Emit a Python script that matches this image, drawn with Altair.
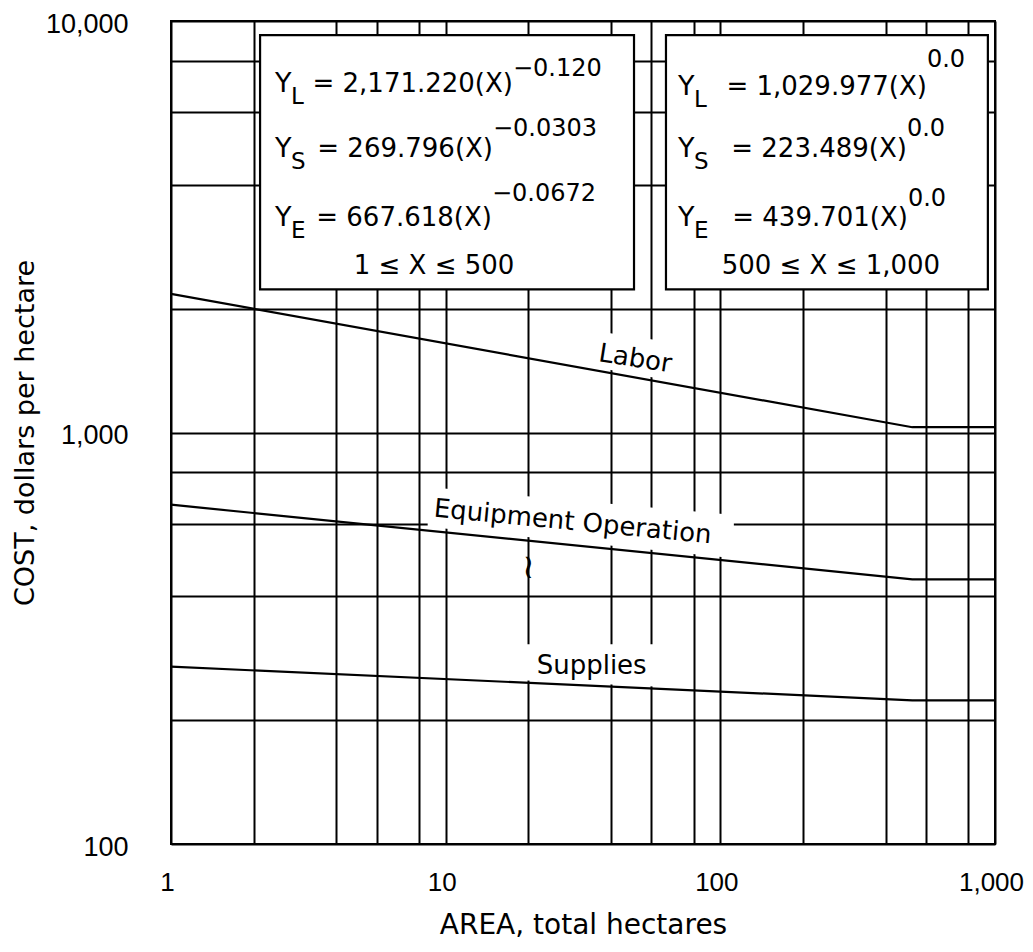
import altair as alt
import pandas as pd

area = [1, 500, 1000]
labor = [2171.220, 1029.977, 1029.977]
equipment = [667.618, 439.701, 439.701]
supplies = [269.796, 223.489, 223.489]
series_names = ["Labor", "Equipment Operation", "Supplies"]

# ---- grid / tick values ----
x_grid = [1, 2, 4, 5.6, 8, 10, 20, 40, 56, 80, 100, 200, 400, 560, 800, 1000]
y_grid = [100, 200, 400, 600, 800, 1000, 2000, 4000, 6000, 8000, 10000]
x_labels = [1, 10, 100, 1000]
y_labels = [100, 1000, 10000]

# ---- curve labels (data coordinates) ----
lab_text = ["Labor", "Equipment  Operation", "Supplies", "\u2240"]
lab_x = [49, 29, 34, 20]
lab_y = [1510, 606, 271, 468]
lab_angle = [9, 5.5, 0, 0]
lab_size = [26, 26, 26, 34]

# ---- white masks behind curve labels ----
mask_id = ["L", "L", "E", "E", "S", "S"]
mask_x = [35, 69, 8.6, 112, 19, 60]
mask_top = [1765, 1650, 737, 630, 306, 306]
mask_bot = [1440, 1330, 590, 495, 250, 241]

# ---- equation boxes ----
box_x0 = [2.11, 63.4]
box_x1 = [48.5, 942]
box_y0 = [2228, 2228]
box_y1 = [9245, 9245]

# ---- equation text ----
eq_anchor_x = [2.39, 2.39, 2.39, 70.1, 70.1, 70.1]
eq_base_y = [6723, 4672, 3176, 6600, 4672, 3176]
eq_sub = ["L", "S", "E", "L", "S", "E"]
eq_body = ["= 2,171.220(X)", "= 269.796(X)", "= 667.618(X)",
           "= 1,029.977(X)", "=  223.489(X)", "=  439.701(X)"]
eq_sup_x = [17.58, 14.87, 14.74, 565, 478, 482]
eq_sup_y = [7350, 5254, 3652, 7729, 5254, 3551]
eq_sup = ["\u22120.120", "\u22120.0303", "\u22120.0672", "0.0", "0.0", "0.0"]
range_text = ["1 \u2264 X \u2264  500", "500 \u2264 X \u2264 1,000"]
range_x = [9.07, 252.7]
range_y = [2428, 2428]

# ---------------------------------------------------------------
series_df = pd.DataFrame({
    "area": area * 3,
    "cost": labor + equipment + supplies,
    "series": sum([[n] * len(area) for n in series_names], []),
})
labels_df = pd.DataFrame({"text": lab_text, "x": lab_x, "y": lab_y,
                          "ang": lab_angle, "size": lab_size})
mask_df = pd.DataFrame({"id": mask_id, "x": mask_x, "top": mask_top, "bot": mask_bot})
box_df = pd.DataFrame({"x0": box_x0, "x1": box_x1, "y0": box_y0, "y1": box_y1})
eq_df = pd.DataFrame({"ax": eq_anchor_x, "by": eq_base_y, "sub": eq_sub,
                      "body": eq_body, "sx": eq_sup_x, "sy": eq_sup_y, "sup": eq_sup})
range_df = pd.DataFrame({"text": range_text, "x": range_x, "y": range_y})

xs = alt.Scale(type="log", domain=[1, 1000], nice=False)
ys = alt.Scale(type="log", domain=[100, 10000], nice=False)

x_axis = alt.Axis(
    values=x_grid,
    labelExpr=f"indexof({x_labels}, datum.value) >= 0 ? format(datum.value, ',') : ''",
    labelOverlap=False, labelFlush=False, labelOffset=-4,
    grid=True, gridColor="black", gridWidth=2, gridOpacity=1,
    domain=False, ticks=False,
    labelFont="Liberation Sans", labelFontSize=26, labelColor="black", labelPadding=25,
    title="AREA,  total hectares", titleFont="DejaVu Sans", titleFontSize=28,
    titleFontWeight="normal", titleColor="black", titlePadding=16,
)
y_axis = alt.Axis(
    values=y_grid,
    labelExpr=f"indexof({y_labels}, datum.value) >= 0 ? format(datum.value, ',') : ''",
    labelOverlap=False, labelFlush=False, labelOffset=3,
    grid=True, gridColor="black", gridWidth=2, gridOpacity=1,
    domain=False, ticks=False,
    labelFont="Liberation Sans", labelFontSize=27, labelColor="black", labelPadding=43,
    title="COST, dollars per hectare", titleFont="DejaVu Sans", titleFontSize=27,
    titleFontWeight="normal", titleColor="black", titlePadding=6,
)


def X(f):
    return alt.X(f, type="quantitative", scale=xs, axis=x_axis)


def Y(f):
    return alt.Y(f, type="quantitative", scale=ys, axis=y_axis, stack=None)


masks = alt.Chart(mask_df).mark_area(color="white", opacity=1).encode(
    x=X("x"), y=Y("top"), y2="bot", detail="id"
)

boxes = alt.Chart(box_df).mark_rect(fill="white", stroke="black", strokeWidth=2.2).encode(
    x=X("x0"), x2="x1", y=Y("y0"), y2="y1"
)

lines = alt.Chart(series_df).mark_line(color="black", strokeWidth=2.2).encode(
    x=X("area"), y=Y("cost"), detail="series"
)

curve_labels = alt.Chart(labels_df).mark_text(
    font="DejaVu Sans", color="black", align="center", baseline="middle"
).encode(
    x=X("x"), y=Y("y"), text="text",
    angle=alt.Angle("ang:Q", scale=None),
    size=alt.Size("size:Q", scale=None, legend=None),
)

eq_font = dict(font="DejaVu Sans", color="black", baseline="alphabetic")
eq_y = alt.Chart(eq_df).mark_text(fontSize=27, align="left", text="Y", **eq_font).encode(
    x=X("ax"), y=Y("by")
)
eq_subs = alt.Chart(eq_df).mark_text(fontSize=23, align="left", dx=16, dy=12, **eq_font).encode(
    x=X("ax"), y=Y("by"), text="sub"
)
eq_bodies = alt.Chart(eq_df).mark_text(fontSize=26, align="right", **eq_font).encode(
    x=X("sx"), y=Y("by"), text="body"
)
eq_sups = alt.Chart(eq_df).mark_text(fontSize=24, align="left", **eq_font).encode(
    x=X("sx"), y=Y("sy"), text="sup"
)
ranges = alt.Chart(range_df).mark_text(fontSize=26, align="center", **eq_font).encode(
    x=X("x"), y=Y("y"), text="text"
)

chart = alt.layer(
    masks, boxes, lines, curve_labels, eq_y, eq_subs, eq_bodies, eq_sups, ranges
).properties(
    width=824, height=823,
    autosize=alt.AutoSizeParams(type="none"),
    padding={"left": 163, "top": 13, "right": 30, "bottom": 96},
    background="white",
).configure_view(stroke="black", strokeWidth=2)

chart.save("out.html", embed_options={"renderer": "svg", "actions": False})
